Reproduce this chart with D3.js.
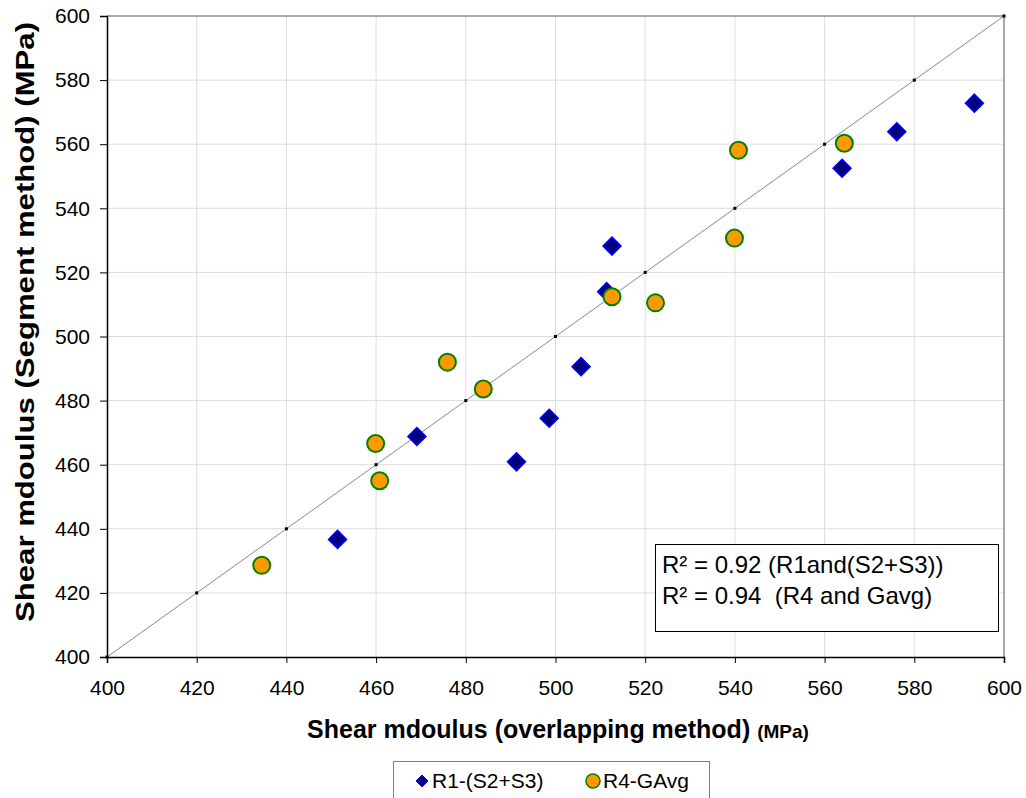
<!DOCTYPE html>
<html>
<head>
<meta charset="utf-8">
<script src="https://cdn.jsdelivr.net/npm/d3@7"></script>
<style>
  html, body { margin: 0; padding: 0; background: #fff; }
  svg { display: block; font-family: "Liberation Sans", Arial, sans-serif; }
</style>
</head>
<body>
<svg id="chart" width="1026" height="798"></svg>
<script>
/* ── DATA ───────────────────────────────────────────────────────────────────── */
const r1X = [451.4, 469.1, 491.3, 498.6, 505.7, 511.4, 512.6, 563.9, 576.1, 593.4];
const r1Y = [436.7, 468.8, 460.9, 474.5, 490.6, 514.0, 528.2, 552.5, 563.9, 572.8];

const r4X = [434.5, 459.9, 460.8, 475.9, 483.9, 512.6, 522.3, 539.9, 540.8, 564.4];
const r4Y = [428.6, 466.6, 455.0, 492.0, 483.6, 512.4, 510.5, 530.7, 558.1, 560.3];

const lineVals = [400, 420, 440, 460, 480, 500, 520, 540, 560, 580, 600];
const tickVals = [400, 420, 440, 460, 480, 500, 520, 540, 560, 580, 600];

const seriesNames = ['R1-(S2+S3)', 'R4-GAvg'];
const r2Lines = ['R\u00b2 = 0.92 (R1and(S2+S3))', 'R\u00b2 = 0.94  (R4 and Gavg)'];

/* ── LAYOUT ─────────────────────────────────────────────────────────────────── */
const plot = { left: 107, top: 16, right: 1004, bottom: 657 };
const svg = d3.select('#chart');

const x = d3.scaleLinear().domain([400, 600]).range([plot.left, plot.right]);
const y = d3.scaleLinear().domain([400, 600]).range([plot.bottom, plot.top]);

/* ── GRID ───────────────────────────────────────────────────────────────────── */
const grid = svg.append('g').attr('stroke', '#dcdcdc').attr('stroke-width', 1);
grid.selectAll('.gx').data(tickVals.slice(1, -1)).join('line')
  .attr('x1', d => x(d)).attr('x2', d => x(d))
  .attr('y1', plot.top).attr('y2', plot.bottom);
grid.selectAll('.gy').data(tickVals.slice(1, -1)).join('line')
  .attr('y1', d => y(d)).attr('y2', d => y(d))
  .attr('x1', plot.left).attr('x2', plot.right);

// top and right frame
svg.append('path')
  .attr('d', `M${plot.left},${plot.top}H${plot.right}V${plot.bottom}`)
  .attr('fill', 'none').attr('stroke', '#8c8c8c').attr('stroke-width', 1.5);

/* ── AXES ───────────────────────────────────────────────────────────────────── */
const xAxis = svg.append('g')
  .attr('transform', `translate(0,${plot.bottom})`)
  .call(d3.axisBottom(x).tickValues(tickVals).tickSize(6).tickPadding(17).tickFormat(d3.format('d')));
const yAxis = svg.append('g')
  .attr('transform', `translate(${plot.left},0)`)
  .call(d3.axisLeft(y).tickValues(tickVals).tickSize(7).tickPadding(10).tickFormat(d3.format('d')));

[xAxis, yAxis].forEach(a => {
  a.select('.domain').attr('stroke', '#000').attr('stroke-width', 1.5);
  a.selectAll('.tick line').attr('stroke', '#000');
  a.selectAll('.tick text')
    .attr('fill', '#000')
    .style('font-family', '"Liberation Sans", Arial, sans-serif')
    .style('font-size', '21px');
});

/* ── 1:1 LINE ───────────────────────────────────────────────────────────────── */
svg.append('path')
  .datum(lineVals)
  .attr('d', d3.line().x(d => x(d)).y(d => y(d)))
  .attr('fill', 'none').attr('stroke', '#888').attr('stroke-width', 1);
svg.append('g').selectAll('rect').data(lineVals).join('rect')
  .attr('x', d => x(d) - 1.5).attr('y', d => y(d) - 1.5)
  .attr('width', 3).attr('height', 3).attr('fill', '#000');

/* ── POINTS ─────────────────────────────────────────────────────────────────── */
const diamond = s => `M0,${-s}L${s},0L0,${s}L${-s},0Z`;

svg.append('g').selectAll('path').data(r1X.map((v, i) => [v, r1Y[i]])).join('path')
  .attr('transform', d => `translate(${x(d[0])},${y(d[1])})`)
  .attr('d', diamond(9))
  .attr('fill', '#000080').attr('stroke', '#0000ff').attr('stroke-width', 1.5);

svg.append('g').selectAll('circle').data(r4X.map((v, i) => [v, r4Y[i]])).join('circle')
  .attr('cx', d => x(d[0])).attr('cy', d => y(d[1])).attr('r', 8.5)
  .attr('fill', '#ff9900').attr('stroke', '#008000').attr('stroke-width', 2);

/* ── R² BOX ─────────────────────────────────────────────────────────────────── */
svg.append('rect')
  .attr('x', 655.5).attr('y', 544.5).attr('width', 343).attr('height', 87)
  .attr('fill', '#fff').attr('stroke', '#000').attr('stroke-width', 1);
svg.append('g').selectAll('text').data(r2Lines).join('text')
  .attr('x', 662).attr('y', (d, i) => 573 + i * 31)
  .attr('font-size', 24).attr('fill', '#000')
  .attr('xml:space', 'preserve').style('white-space', 'pre')
  .text(d => d);

/* ── AXIS TITLES ────────────────────────────────────────────────────────────── */
const xt = svg.append('text')
  .attr('x', 558).attr('y', 738)
  .attr('text-anchor', 'middle').attr('font-weight', 'bold').attr('fill', '#000');
xt.append('tspan').attr('font-size', 25).text('Shear mdoulus (overlapping method) ');
xt.append('tspan').attr('font-size', 19).text('(MPa)');

svg.append('text')
  .attr('transform', `translate(34,322) rotate(-90)`)
  .attr('text-anchor', 'middle').attr('font-weight', 'bold').attr('font-size', 25)
  .attr('textLength', 600).attr('lengthAdjust', 'spacingAndGlyphs')
  .attr('fill', '#000')
  .text('Shear mdoulus (Segment method) (MPa)');

/* ── LEGEND ─────────────────────────────────────────────────────────────────── */
const lg = svg.append('g');
lg.append('rect')
  .attr('x', 393.5).attr('y', 761.5).attr('width', 316).attr('height', 40)
  .attr('fill', '#fff').attr('stroke', '#808080').attr('stroke-width', 1);
lg.append('path')
  .attr('transform', 'translate(422,781)')
  .attr('d', diamond(6))
  .attr('fill', '#000080').attr('stroke', '#0000ff').attr('stroke-width', 1);
lg.append('text').attr('x', 432).attr('y', 788).attr('font-size', 21).attr('fill', '#000').text(seriesNames[0]);
lg.append('circle')
  .attr('cx', 593).attr('cy', 781).attr('r', 7)
  .attr('fill', '#ff9900').attr('stroke', '#008000').attr('stroke-width', 1.5);
lg.append('text').attr('x', 603).attr('y', 788).attr('font-size', 21).attr('fill', '#000').text(seriesNames[1]);
</script>
</body>
</html>
